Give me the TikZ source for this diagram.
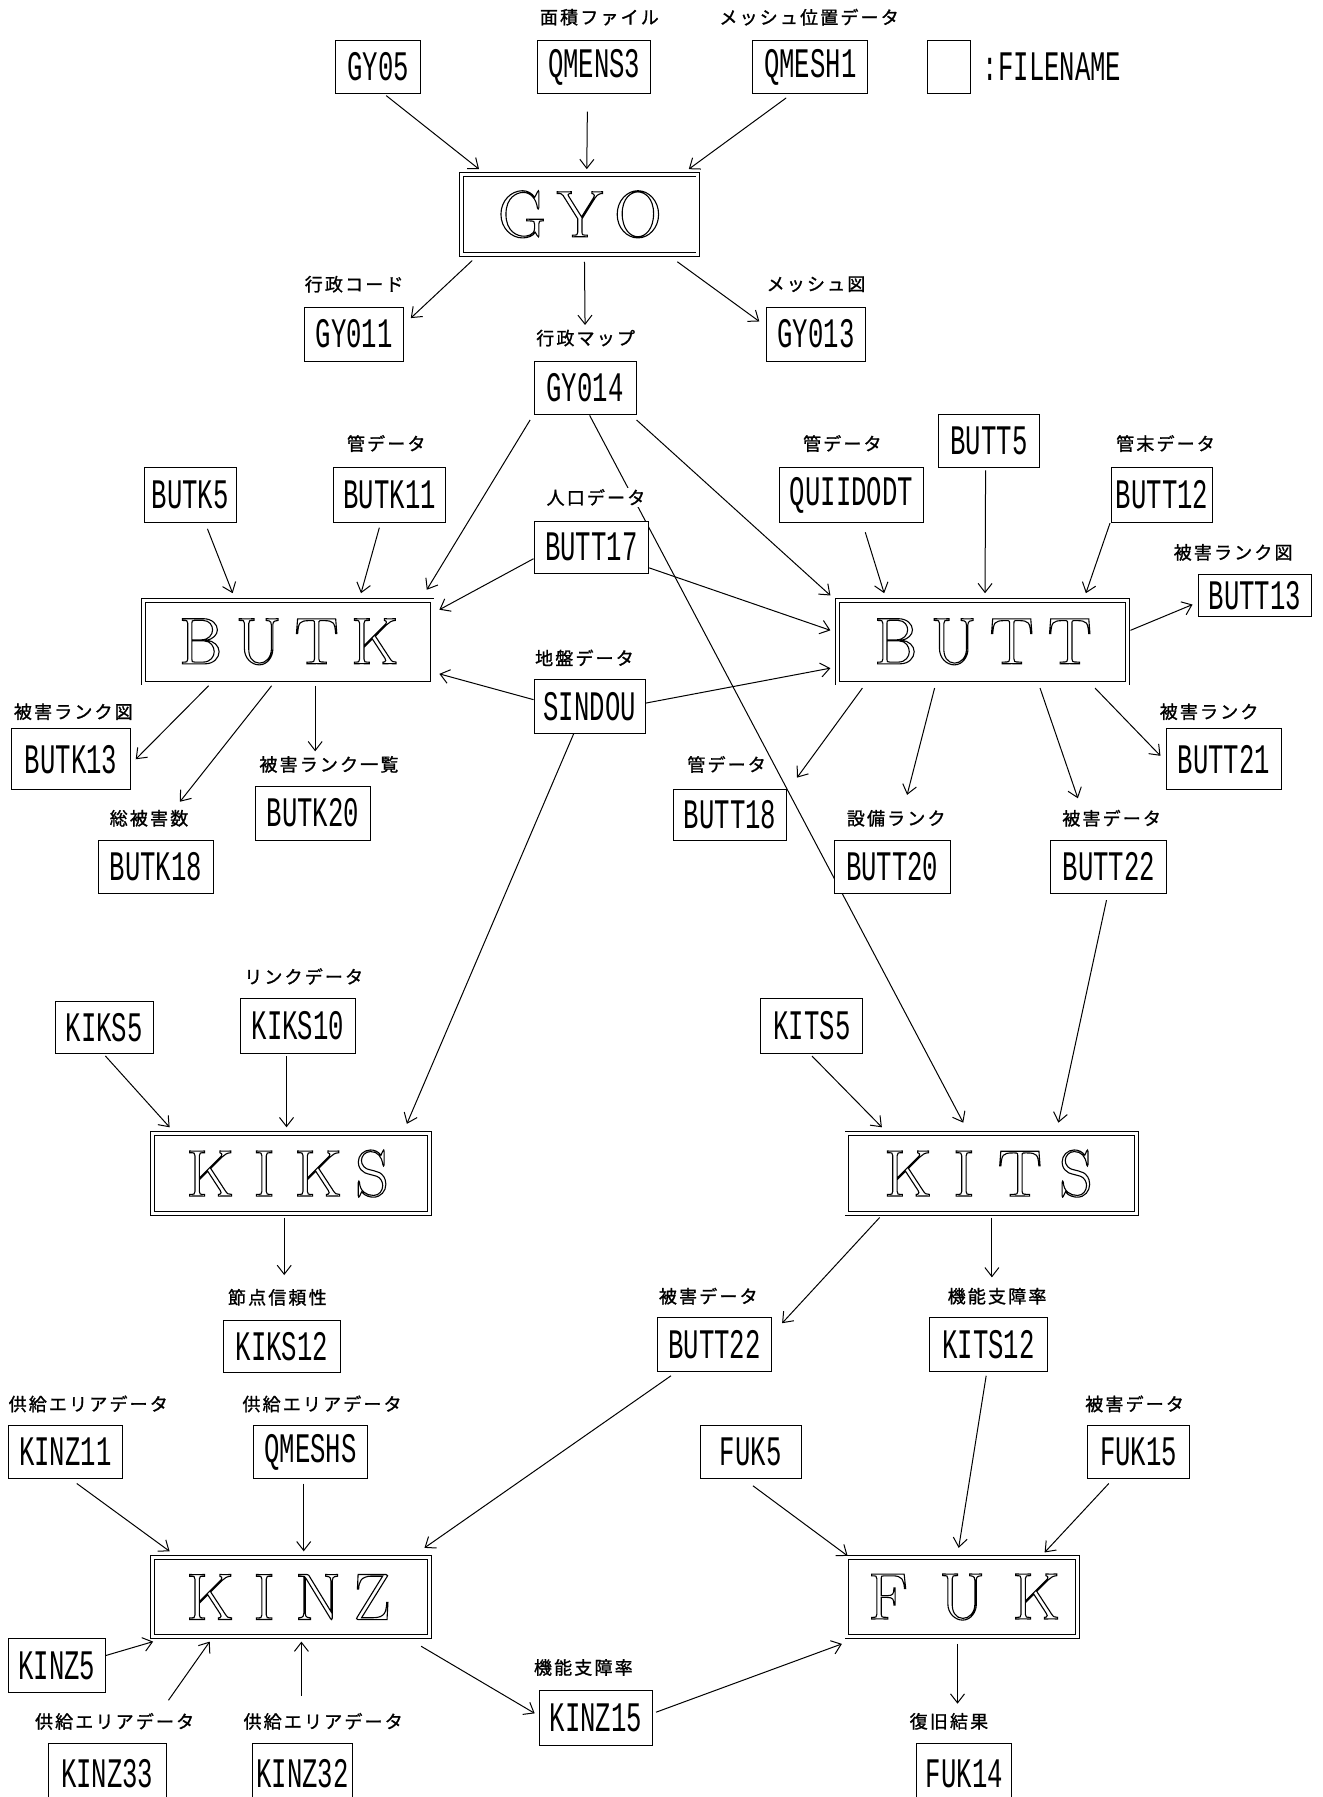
\documentclass[tikz,border=0pt]{standalone}
\usepackage{fontspec}
\usetikzlibrary{arrows.meta,calc}
\newfontfamily\boxfont[FakeStretch=0.61]{Liberation Mono}
\newfontfamily\jpfont[LetterSpace=12,FakeBold=1.2]{Noto Sans CJK JP}
\newlength\bigsep
% hollow (stroked) letter in a fixed-width cell
\newcommand\bl[1]{\makebox[\bigsep]{\special{pdf:literal direct 1 Tr 1.1 w}#1\special{pdf:literal direct 0 Tr}}}
\newcommand\upx{1.1456pt}
\pgfdeclarelayer{paper}
\pgfdeclarelayer{edges}
\pgfsetlayers{paper,edges,main}
\tikzset{
  fb/.style 2 args={minimum width=#1*\upx, minimum height=#2*\upx},
  fbox/.style={draw, line width=1pt, fill=white, inner sep=0pt,
    font=\boxfont\fontsize{42}{42}\selectfont},
  prog/.style={draw, line width=0.9pt, double, double distance=3pt, fill=white,
    inner sep=0pt, font=\rmfamily\fontsize{66}{66}\selectfont},
  lbl/.style={fill=white, inner sep=1pt, font=\jpfont\fontsize{18}{18}\selectfont},
  arr/.style={line width=1pt, -{Straight Barb[length=9pt,width=14pt]}},
}
\begin{document}
\begin{tikzpicture}[x=1.1456pt, y=-1.1456pt]
\useasboundingbox (0,0) rectangle (1154,1568);
\begin{pgfonlayer}{paper}
\fill[white] (0,0) rectangle (1154,1568);
\end{pgfonlayer}

% ---------- top: GYO ----------
\node[fbox, fb={74}{47}] (gy05) at (330,58.5) {GY05};
\node[fbox, fb={99}{47}] (qmens3) at (518.5,58.5) {QMENS3};
\node[lbl] (l_qmens3) at (523,15) {面積ファイル};
\node[fbox, fb={100}{47}] (qmesh1) at (707,58.5) {QMESH1};
\node[lbl] (l_qmesh1) at (706,15) {メッシュ位置データ};
\node[fbox, fb={38}{47}] (legend) at (828,58.5) {};
\node[font=\boxfont\fontsize{42}{42}\selectfont, inner sep=0pt] (legendtxt) at (918,58.5) {:FILENAME};

\node[prog, fb={206}{70}] (gyo) at (506,187) {\setlength\bigsep{58pt}\bl{G}\bl{Y}\bl{O}};

\node[fbox, fb={86}{47}] (gy011) at (309,291.5) {GY011};
\node[lbl] (l_gy011) at (309,248) {行政コード};
\node[fbox, fb={86}{47}] (gy013) at (712,291.5) {GY013};
\node[lbl] (l_gy013) at (712,248) {メッシュ図};
\node[fbox, fb={89}{47}] (gy014) at (510.5,338.5) {GY014};
\node[lbl] (l_gy014) at (511,295) {行政マップ};

% ---------- BUTK / BUTT ----------
\node[prog, fb={252}{72}] (butk) at (251,560) {\setlength\bigsep{58pt}\bl{B}\bl{U}\bl{T}\bl{K}};
\node[prog, fb={253}{72}] (butt) at (857.5,560) {\setlength\bigsep{58pt}\bl{B}\bl{U}\bl{T}\bl{T}};

\node[fbox, fb={80}{48}] (butk5) at (166,432) {BUTK5};
\node[fbox, fb={98}{48}] (butk11) at (340,432) {BUTK11};
\node[lbl] (l_butk11) at (337,387) {管データ};
\node[fbox, fb={100}{45}] (butt17) at (516,477.5) {BUTT17};
\node[lbl] (l_butt17) at (520,434) {人口データ};
\node[fbox, fb={126}{48}] (quiidodt) at (743,432) {QUIIDODT};
\node[lbl] (l_quiidodt) at (735,387) {管データ};
\node[fbox, fb={88}{46}] (butt5) at (863,385) {BUTT5};
\node[fbox, fb={88}{48}] (butt12) at (1014,432) {BUTT12};
\node[lbl] (l_butt12) at (1017,387) {管末データ};
\node[fbox, fb={98}{37}] (butt13) at (1095,519.5) {BUTT13};
\node[lbl] (l_butt13) at (1076,482) {被害ランク図};
\node[fbox, fb={97}{47}] (sindou) at (514.5,616.5) {SINDOU};
\node[lbl] (l_sindou) at (510,574) {地盤データ};

\node[fbox, fb={104}{53}] (butk13) at (62,662.5) {BUTK13};
\node[lbl] (l_butk13) at (64,621) {被害ランク図};
\node[fbox, fb={100}{47}] (butk20) at (273,709.5) {BUTK20};
\node[lbl] (l_butk20) at (287,667) {被害ランク一覧};
\node[fbox, fb={100}{47}] (butk18) at (136,756.5) {BUTK18};
\node[lbl] (l_butk18) at (130,714) {総被害数};

\node[fbox, fb={98}{44}] (butt18) at (637,711) {BUTT18};
\node[lbl] (l_butt18) at (634,667) {管データ};
\node[fbox, fb={101}{47}] (butt20) at (778.5,756.5) {BUTT20};
\node[lbl] (l_butt20) at (782,714) {設備ランク};
\node[fbox, fb={101}{47}] (butt22a) at (967.5,756.5) {BUTT22};
\node[lbl] (l_butt22a) at (970,714) {被害データ};
\node[fbox, fb={100}{53}] (butt21) at (1068,662.5) {BUTT21};
\node[lbl] (l_butt21) at (1055,621) {被害ランク};

% ---------- KIKS / KITS ----------
\node[prog, fb={242}{70}] (kiks) at (254,1024) {\setlength\bigsep{54pt}\bl{K}\bl{I}\bl{K}\bl{S}};
\node[prog, fb={253}{70}] (kits) at (865.5,1024) {\setlength\bigsep{56pt}\bl{K}\bl{I}\bl{T}\bl{S}};

\node[fbox, fb={86}{45}] (kiks5) at (91,896.5) {KIKS5};
\node[fbox, fb={100}{48}] (kiks10) at (260,895) {KIKS10};
\node[lbl] (l_kiks10) at (265,852) {リンクデータ};
\node[fbox, fb={89}{48}] (kits5) at (708.5,895) {KITS5};

\node[fbox, fb={102}{46}] (kiks12) at (246,1175) {KIKS12};
\node[lbl] (l_kiks12) at (242,1132) {節点信頼性};
\node[fbox, fb={99}{47}] (butt22b) at (623.5,1173.5) {BUTT22};
\node[lbl] (l_butt22b) at (618,1131) {被害データ};
\node[fbox, fb={103}{47}] (kits12) at (862.5,1173.5) {KITS12};
\node[lbl] (l_kits12) at (870,1131) {機能支障率};

% ---------- KINZ / FUK ----------
\node[fbox, fb={100}{46}] (kinz11) at (57,1267) {KINZ11};
\node[lbl] (l_kinz11) at (77,1225) {供給エリアデータ};
\node[fbox, fb={100}{46}] (qmeshs) at (271,1267) {QMESHS};
\node[lbl] (l_qmeshs) at (281,1225) {供給エリアデータ};
\node[fbox, fb={88}{46}] (fuk5) at (655,1267) {FUK5};
\node[fbox, fb={89}{46}] (fuk15) at (993.5,1267) {FUK15};
\node[lbl] (l_fuk15) at (990,1225) {被害データ};

\node[prog, fb={242}{69}] (kinz) at (254,1393.5) {\setlength\bigsep{54pt}\bl{K}\bl{I}\bl{N}\bl{Z}};
\node[prog, fb={201}{69}] (fuk) at (839.5,1393.5) {\setlength\bigsep{74pt}\bl{F}\bl{U}\bl{K}};

\node[fbox, fb={85}{47}] (kinz5) at (49.5,1453.5) {KINZ5};
\node[fbox, fb={103}{54}] (kinz33) at (93.5,1548) {KINZ33};
\node[lbl] (l_kinz33) at (100,1502) {供給エリアデータ};
\node[fbox, fb={88}{54}] (kinz32) at (264,1548) {KINZ32};
\node[lbl] (l_kinz32) at (282,1502) {供給エリアデータ};
\node[fbox, fb={98}{48}] (kinz15) at (520,1499) {KINZ15};
\node[lbl] (l_kinz15) at (509,1455) {機能支障率};
\node[fbox, fb={83}{54}] (fuk14) at (841.5,1548) {FUK14};
\node[lbl] (l_fuk14) at (828,1502) {復旧結果};

% ---------- data flow ----------
\begin{pgfonlayer}{edges}
\draw[arr] ($(gy05.south)+(7,1)$) -- ($(gyo.north)+(-88,-4)$);
\draw[arr] ($(qmens3.south)+(-6,15)$) -- ($(gyo.north)+(6,-4)$);
\draw[arr] ($(qmesh1.south)+(-21,3)$) -- ($(gyo.north)+(95,-4)$);
\draw[arr] ($(gyo.south)+(-94,5)$) -- ($(gy011.north east)+(6,10)$);
\draw[arr] ($(gyo.south)+(4,6)$) -- ($(gy014.north)+(0,-31)$);
\draw[arr] ($(gyo.south)+(85,6)$) -- ($(gy013.west)+(-6,-11)$);

\draw[arr] ($(gy014.south west)+(-3,4)$) -- ($(butk.north east)+(-5,-9)$);
\draw[arr] ($(gy014.south)+(4,0)$) -- ($(kits.north)+(-25,-9)$);
\draw[arr] ($(gy014.south east)+(0,4)$) -- ($(butt.north west)+(-6,-4)$);

\draw[arr] ($(butk5.south)+(15,5)$) -- ($(butk.north)+(-48,-6)$);
\draw[arr] ($(butk11.south)+(-9,4)$) -- ($(butk.north)+(64,-6)$);
\draw[arr] ($(butt17.west)+(0,10)$) -- ($(butk.east)+(6,-28)$);
\draw[arr] ($(butt17.east)+(0,18)$) -- ($(butt.west)+(-6,-10)$);
\draw[arr] ($(quiidodt.south)+(12,8)$) -- ($(butt.north)+(-86,-6)$);
\draw[arr] ($(butt5.south)+(-3,2)$) -- ($(butt.north)+(2,-6)$);
\draw[arr] ($(butt12.south west)+(-1,0)$) -- ($(butt.north)+(90,-6)$);
\draw[arr] ($(butt.east)+(2,-10)$) -- ($(butt13.west)+(-5,8)$);
\draw[arr] ($(sindou.west)+(0,-6)$) -- ($(butk.east)+(6,28)$);
\draw[arr] ($(sindou.east)+(0,-3)$) -- ($(butt.west)+(-6,23)$);
\draw[arr] ($(sindou.south)+(-14,0)$) -- ($(kiks.north)+(101,-8)$);

\draw[arr] ($(butk.south)+(-69,2)$) -- ($(butk13.east)+(4,0)$);
\draw[arr] ($(butk.south)+(-14,2)$) -- ($(butk18.north)+(21,-33)$);
\draw[arr] ($(butk.south)+(24,2)$) -- ($(butk20.north)+(2,-30)$);
\draw[arr] ($(butt.south)+(-105,4)$) -- ($(butt18.north east)+(9,-10)$);
\draw[arr] ($(butt.south)+(-42,4)$) -- ($(butt20.north)+(13,-39)$);
\draw[arr] ($(butt.south)+(50,4)$) -- ($(butt22a.north)+(-27,-36)$);
\draw[arr] ($(butt.south)+(98,4)$) -- ($(butt21.west)+(-5,-3)$);

\draw[arr] ($(butt22a.south)+(-2,5)$) -- ($(kits.north)+(58,-9)$);
\draw[arr] ($(kits5.south)+(0,2)$) -- ($(kits.north)+(-96,-5)$);
\draw[arr] ($(kiks5.south)+(1,2)$) -- ($(kiks.north)+(-106,-5)$);
\draw[arr] ($(kiks10.south)+(-10,2)$) -- ($(kiks.north)+(-4,-5)$);
\draw[arr] ($(kiks.south)+(-6,3)$) -- ($(kiks12.north)+(2,-39)$);
\draw[arr] ($(kits.south)+(-98,3)$) -- ($(butt22b.north east)+(9,5)$);
\draw[arr] ($(kits.south)+(0,3)$) -- ($(kits12.north)+(3,-35)$);

\draw[arr] ($(butt22b.south)+(-38,3)$) -- ($(kinz.north east)+(-5,-8)$);
\draw[arr] ($(kits12.south)+(-2,3)$) -- ($(fuk.north)+(-3,-8)$);
\draw[arr] ($(kinz11.south)+(10,4)$) -- ($(kinz.north)+(-106,-5)$);
\draw[arr] ($(qmeshs.south)+(-6,4)$) -- ($(kinz.north)+(11,-5)$);
\draw[arr] ($(fuk5.south)+(2,6)$) -- ($(fuk.north west)+(1,-1)$);
\draw[arr] ($(fuk15.south)+(-26,4)$) -- ($(fuk.north)+(72,-4)$);
\draw[arr] ($(kinz5.east)+(0,-9)$) -- ($(kinz.south west)+(1,4)$);
\draw[arr] ($(kinz33.north)+(53.5,-37)$) -- ($(kinz.south)+(-71,4)$);
\draw[arr] ($(kinz32.north)+(-1,-41)$) -- ($(kinz.south)+(9,4)$);
\draw[arr] ($(kinz.south east)+(-8,8)$) -- ($(kinz15.west)+(-4,-4)$);
\draw[arr] ($(kinz15.east)+(3,-5)$) -- ($(fuk.south west)+(-4,6)$);
\draw[arr] ($(fuk.south)+(-4,6)$) -- ($(fuk14.north)+(-6,-34)$);
\end{pgfonlayer}
\end{tikzpicture}
\end{document}
